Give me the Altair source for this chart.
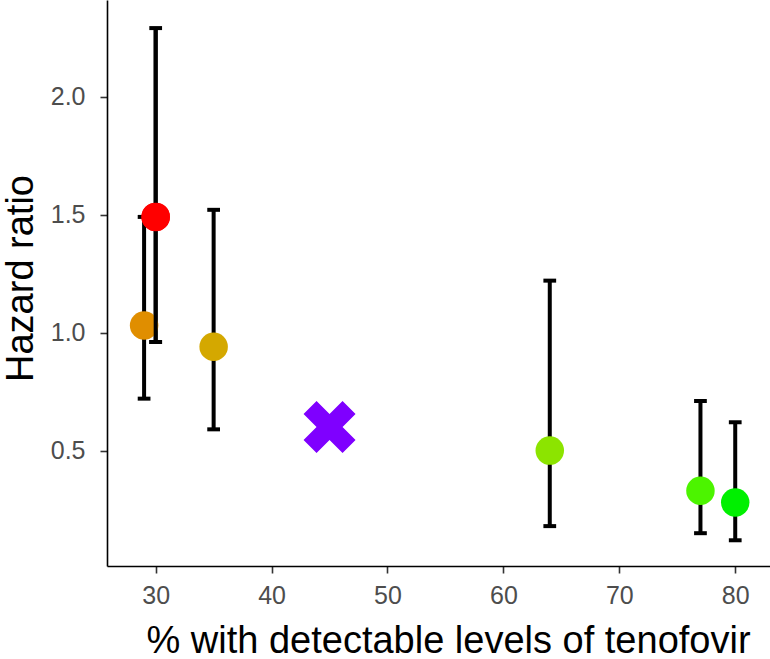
import altair as alt
import pandas as pd

# Data
detect_pct = [29, 30, 35, 45, 64, 77, 80]
hazard = [1.03, 1.49, 0.94, 0.60, 0.50, 0.33, 0.28]
ci_low = [0.72, 0.96, 0.59, None, 0.18, 0.15, 0.12]
ci_high = [1.49, 2.29, 1.52, None, 1.22, 0.71, 0.62]
colors = ["#E08E00", "#FF0000", "#D4A800", "#7F00FF", "#8CE400", "#4CF400", "#00F000"]
is_cross = [False, False, False, True, False, False, False]

df = pd.DataFrame({
    "x": detect_pct, "hr": hazard, "lo": ci_low, "hi": ci_high,
    "col": colors, "cross": is_cross,
})

X_PATH = "M-1,-0.5L-0.5,-1L0,-0.5L0.5,-1L1,-0.5L0.5,0L1,0.5L0.5,1L0,0.5L-0.5,1L-1,0.5L-0.5,0Z"

xs = alt.Scale(domain=[25.8, 83.0], nice=False, zero=False)
ys = alt.Scale(domain=[0.011, 2.409], nice=False, zero=False)

xenc = alt.X("x:Q", scale=xs, axis=alt.Axis(
    values=[30, 40, 50, 60, 70, 80], title="% with detectable levels of tenofovir",
    titleX=341, titleY=86, titleBaseline="alphabetic", titleAnchor="middle", titleAlign="center"))
yenc = alt.Y("hr:Q", scale=ys, axis=alt.Axis(
    values=[0.5, 1.0, 1.5, 2.0], format=".1f", title="Hazard ratio",
    titleX=-75, titleY=278, titleBaseline="alphabetic", titleAngle=-90, titleAlign="center"))

base = alt.Chart(df)
ebar = base.transform_filter("isValid(datum.lo)")

bars = ebar.mark_rule(color="black", strokeWidth=4).encode(
    x=xenc, y=alt.Y("lo:Q", scale=ys), y2="hi:Q")
caps_lo = ebar.transform_calculate(x1="datum.x - 0.55", x2="datum.x + 0.55").mark_rule(
    color="black", strokeWidth=4).encode(x=alt.X("x1:Q", scale=xs), x2="x2:Q", y=alt.Y("lo:Q", scale=ys))
caps_hi = ebar.transform_calculate(x1="datum.x - 0.55", x2="datum.x + 0.55").mark_rule(
    color="black", strokeWidth=4).encode(x=alt.X("x1:Q", scale=xs), x2="x2:Q", y=alt.Y("hi:Q", scale=ys))

circles = base.transform_filter("!datum.cross").mark_point(
    filled=True, opacity=1, size=812, shape="circle", strokeWidth=0).encode(
    x=xenc, y=yenc, color=alt.Color("col:N", scale=None))
cross = base.transform_filter("datum.cross").mark_point(
    filled=True, opacity=1, size=2704, shape=X_PATH, strokeWidth=0).encode(
    x=xenc, y=yenc, color=alt.Color("col:N", scale=None))

# redraw the 30% study on top (its bar overlaps the 29% point)
top = base.transform_filter("datum.x == 30")
bars_top = top.mark_rule(color="black", strokeWidth=4).encode(
    x=xenc, y=alt.Y("lo:Q", scale=ys), y2="hi:Q")
caps_top = top.transform_calculate(x1="datum.x - 0.55", x2="datum.x + 0.55").mark_rule(
    color="black", strokeWidth=4).encode(x=alt.X("x1:Q", scale=xs), x2="x2:Q", y=alt.Y("lo:Q", scale=ys))
circle_top = top.mark_point(filled=True, opacity=1, size=812, shape="circle", strokeWidth=0).encode(
    x=xenc, y=yenc, color=alt.Color("col:N", scale=None))

chart = alt.layer(bars, caps_lo, caps_hi, circles, cross, bars_top, caps_top, circle_top).properties(
    width=663, height=566,
    autosize=alt.AutoSizeParams(type="none"),
    padding={"left": 107, "top": 0, "right": 0, "bottom": 93},
    background="white",
).configure_view(stroke=None).configure_axis(
    grid=False,
    domainColor="black", domainWidth=1.6,
    tickColor="#333333", tickWidth=1.6, tickSize=7,
    labelFont="Liberation Sans", labelFontSize=25, labelColor="#4D4D4D",
    titleFont="Liberation Sans", titleFontSize=38, titleColor="black", titleFontWeight="normal",
).configure_axisX(labelPadding=10).configure_axisY(labelPadding=15)

chart.save("out.html", embed_options={"renderer": "svg", "actions": False})
